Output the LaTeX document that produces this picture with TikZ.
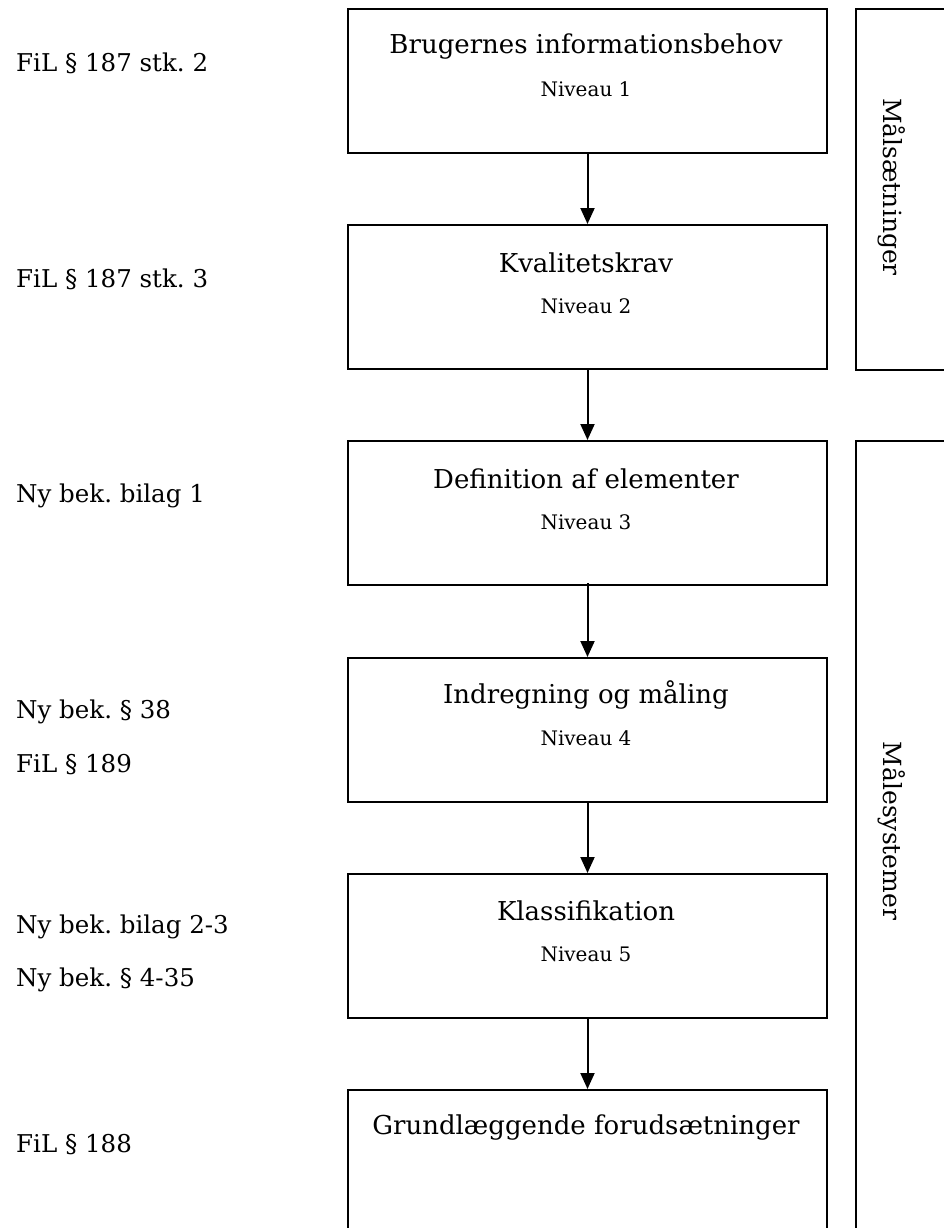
\documentclass[tikz,border=0pt]{standalone}
\usepackage{fontspec}
\setmainfont{DejaVu Serif}
\usetikzlibrary{arrows.meta}
\frenchspacing
\begin{document}
\begin{tikzpicture}[x=1pt,y=-1pt,
  box/.style={draw, line width=2pt, minimum width=479pt, minimum height=144pt, inner sep=0pt, anchor=north west},
  side/.style={draw, line width=2pt, minimum width=120pt, inner sep=0pt, anchor=north west},
  title/.style={font=\fontsize{26}{30}\selectfont, inner sep=0pt},
  level/.style={font=\fontsize{20}{24}\selectfont, inner sep=0pt},
  ref/.style={font=\fontsize{24.5}{29}\selectfont, anchor=west, inner sep=0pt},
  vert/.style={font=\fontsize{25}{29}\selectfont, rotate=-90, inner sep=0pt},
  flow/.style={line width=2pt, -{Triangle[width=14pt,length=16pt]}}]
\useasboundingbox (0,0) rectangle (944,1228);
\clip (0,0) rectangle (944,1228);

% level boxes
\node[box] (b1) at (347,8) {};
\node[box] (b2) at (347,224) {};
\node[box] (b3) at (347,440) {};
\node[box] (b4) at (347,657) {};
\node[box] (b5) at (347,873) {};
\node[box, minimum height=170pt] (b6) at (347,1089) {};

% box texts
\node[title] (t1) at (586,47) {Brugernes informationsbehov};
\node[level] (n1) at (586,89) {Niveau 1};
\node[title] (t2) at (586,263) {Kvalitetskrav};
\node[level] (n2) at (586,306) {Niveau 2};
\node[title] (t3) at (586,479) {Definition af elementer};
\node[level] (n3) at (586,522) {Niveau 3};
\node[title] (t4) at (586,695) {Indregning og måling};
\node[level] (n4) at (586,738) {Niveau 4};
\node[title] (t5) at (586,911) {Klassifikation};
\node[level] (n5) at (586,954) {Niveau 5};
\node[title] (t6) at (586,1127) {Grundlæggende forudsætninger};

% arrows between levels
\draw[flow] (b1.south) -- (b2.north);
\draw[flow] (b2.south) -- (b3.north);
\draw[flow] ([yshift=3pt]b3.south) -- (b4.north);
\draw[flow] (b4.south) -- (b5.north);
\draw[flow] (b5.south) -- (b6.north);

% side brackets
\node[side, minimum height=361pt] (s1) at (855,8) {};
\node[side, minimum height=820pt] (s2) at (855,440) {};
\node[vert] (v1) at (892,187) {Målsætninger};
\node[vert] (v2) at (892,831) {Målesystemer};

% legal references
\node[ref] (r1) at (16,63) {FiL § 187 stk. 2};
\node[ref] (r2) at (16,279) {FiL § 187 stk. 3};
\node[ref] (r3) at (16,496) {Ny bek. bilag 1};
\node[ref] (r4) at (16,712) {Ny bek. § 38};
\node[ref] (r5) at (16,765) {FiL § 189};
\node[ref] (r6) at (16,927) {Ny bek. bilag 2-3};
\node[ref] (r7) at (16,980) {Ny bek. § 4-35};
\node[ref] (r8) at (16,1145) {FiL § 188};
\end{tikzpicture}
\end{document}
